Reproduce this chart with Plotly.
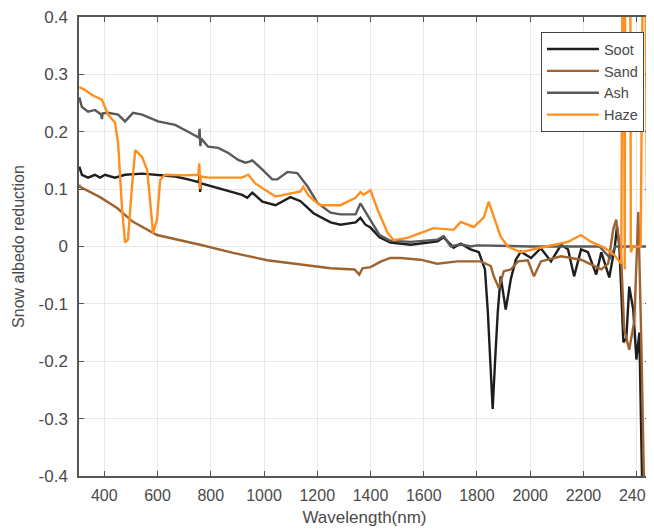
import plotly.graph_objects as go

# ---------------- data ----------------
soot_nm = [306, 316, 339, 365, 384, 403, 440, 478, 542, 602, 666, 715, 755, 758, 760, 763, 817, 881, 918, 937, 956, 994,
           1024, 1043, 1099, 1137, 1186, 1250, 1287, 1344, 1362, 1381, 1400, 1434, 1475, 1551, 1652, 1675, 1712, 1739,
           1776, 1807, 1830, 1841, 1850, 1859, 1868, 1878, 1889, 1908, 1927, 1946, 1965, 2003, 2040, 2078, 2116, 2142,
           2165, 2191, 2217, 2248, 2267, 2297, 2318, 2326, 2335, 2350, 2361, 2372, 2387, 2399, 2410, 2422, 2442, 2449]
soot_val = [0.139, 0.125, 0.12, 0.125, 0.12, 0.125, 0.12, 0.125, 0.127, 0.125, 0.122, 0.117, 0.112, 0.125, 0.095, 0.11,
            0.103, 0.096, 0.09, 0.085, 0.094, 0.078, 0.075, 0.072, 0.086, 0.079, 0.058, 0.042, 0.038, 0.042, 0.05, 0.038,
            0.033, 0.016, 0.007, 0.003, 0.009, 0.016, -0.002, 0.005, -0.005, -0.01, -0.04, -0.115, -0.2, -0.283, -0.2,
            -0.115, -0.052, -0.11, -0.057, -0.023, -0.009, -0.02, -0.003, -0.026, 0.003, -0.005, -0.052, -0.005, -0.01,
            -0.049, -0.01, -0.054, 0.0, 0.035, 0.0, -0.167, -0.16, -0.07, -0.11, -0.197, -0.15, -0.45, -0.45, -0.18]

sand_nm = [306, 309, 384, 448, 508, 598, 760, 884, 1012, 1137, 1250, 1340, 1358, 1370, 1400, 1440, 1475, 1513, 1588,
           1650, 1727, 1776, 1814, 1852, 1863, 1882, 1901, 1927, 1954, 1991, 2003, 2014, 2040, 2116, 2191, 2267, 2293,
           2312, 2323, 2335, 2342, 2353, 2372, 2391, 2406, 2418, 2429, 2450]
sand_val = [0.108, 0.104, 0.086, 0.067, 0.043, 0.02, 0.003, -0.011, -0.024, -0.032, -0.038, -0.04, -0.049, -0.038,
            -0.036, -0.026, -0.02, -0.02, -0.023, -0.03, -0.026, -0.026, -0.026, -0.034, -0.052, -0.072, -0.043, -0.04,
            -0.026, -0.024, -0.037, -0.052, -0.026, -0.017, -0.023, -0.04, -0.03, 0.03, 0.047, 0.0, -0.023, -0.144,
            -0.18, -0.13, 0.06, -0.18, -0.45, -0.45]

ash_nm = [306, 316, 339, 365, 388, 391, 394, 414, 452, 478, 508, 542, 602, 666, 715, 755, 758, 761, 764, 790, 828, 866,
          903, 930, 945, 956, 994, 1031, 1050, 1088, 1125, 1163, 1201, 1250, 1287, 1344, 1362, 1381, 1400, 1434, 1475,
          1551, 1652, 1675, 1701, 1739, 1776, 1800, 2000, 2200, 2260, 2280, 2300, 2320, 2340, 2450]
ash_val = [0.26, 0.243, 0.235, 0.238, 0.23, 0.222, 0.232, 0.233, 0.23, 0.218, 0.233, 0.23, 0.218, 0.212, 0.2, 0.19,
           0.205, 0.175, 0.188, 0.174, 0.172, 0.163, 0.151, 0.146, 0.148, 0.15, 0.134, 0.117, 0.117, 0.13, 0.128, 0.105,
           0.076, 0.059, 0.056, 0.056, 0.075, 0.06, 0.045, 0.02, 0.01, 0.008, 0.012, 0.018, 0.0, 0.004, 0.0, 0.002,
           0.0, 0.0, 0.0, -0.01, -0.02, 0.0, 0.0, 0.0]

haze_nm = [306, 327, 354, 391, 414, 440, 452, 467, 478, 489, 504, 516, 542, 561, 572, 583, 598, 610, 628, 700, 753,
           757, 760, 763, 790, 918, 941, 967, 1043, 1099, 1137, 1148, 1165, 1186, 1212, 1287, 1344, 1362, 1374, 1400,
           1427, 1464, 1487, 1539, 1637, 1712, 1739, 1788, 1826, 1844, 1863, 1889, 1916, 1965, 2029, 2089, 2142, 2191,
           2229, 2278, 2316, 2342, 2350, 2355, 2358, 2375, 2378, 2386, 2415, 2428, 2440, 2450]
haze_val = [0.278, 0.273, 0.264, 0.256, 0.23, 0.216, 0.18, 0.064, 0.007, 0.012, 0.104, 0.168, 0.156, 0.133, 0.081,
            0.023, 0.047, 0.116, 0.125, 0.124, 0.125, 0.145, 0.1, 0.122, 0.12, 0.12, 0.125, 0.11, 0.087, 0.092, 0.096,
            0.104, 0.09, 0.081, 0.072, 0.072, 0.085, 0.095, 0.09, 0.098, 0.064, 0.024, 0.011, 0.015, 0.032, 0.029,
            0.043, 0.034, 0.051, 0.078, 0.051, 0.017, 0.0, -0.01, -0.003, 0.003, 0.008, 0.02, 0.008, -0.002, -0.015,
            -0.03, 0.8, -0.04, 0.8, 0.8, -0.01, 0.0, 0.0, 0.8, 0.0, 0.0]

x_ticks = [400, 600, 800, 1000, 1200, 1400, 1600, 1800, 2000, 2200, 2400]
x_tick_labels = ["400", "600", "800", "1000", "1200", "1400", "1600", "1800", "2000", "2200", "2400"]
y_ticks = [0.4, 0.3, 0.2, 0.1, 0.0, -0.1, -0.2, -0.3, -0.4]
y_tick_labels = ["0.4", "0.3", "0.2", "0.1", "0", "-0.1", "-0.2", "-0.3", "-0.4"]

series = [
    ("Soot", soot_nm, soot_val, "#1e1e1e"),
    ("Sand", sand_nm, sand_val, "#9e6330"),
    ("Ash", ash_nm, ash_val, "#595959"),
    ("Haze", haze_nm, haze_val, "#ff8f1f"),
]

fig = go.Figure()
for name, xs, ys, col in series:
    fig.add_trace(go.Scatter(x=xs, y=ys, mode="lines", name=name,
                             line=dict(color=col, width=2.4)))

font_family = "Liberation Sans, Arial, sans-serif"
axis_common = dict(
    automargin=False,
    showgrid=True, gridcolor="#e8e8e8", gridwidth=1,
    showline=True, linecolor="#555555", linewidth=1.5, mirror="allticks",
    ticks="inside", ticklen=5, tickcolor="#555555", tickwidth=1,
    zeroline=False, ticklabeloverflow="allow",
)

# the page body adds an 8px offset, so the figure is sized to fit the window
fig.update_layout(
    width=646, height=524,
    margin=dict(l=71, r=4, t=9, b=56, autoexpand=False),
    paper_bgcolor="white", plot_bgcolor="white",
    font=dict(family=font_family, color="#4a4a4a"),
    xaxis=dict(range=[305, 2450], tickvals=x_ticks, ticktext=x_tick_labels, ticklabelstandoff=4,
               tickfont=dict(family=font_family, size=16, color="#4a4a4a"),
               title=dict(text="Wavelength(nm)", font=dict(size=17, color="#4a4a4a"), standoff=8),
               **axis_common),
    yaxis=dict(range=[-0.4, 0.4], tickvals=y_ticks, ticktext=y_tick_labels, ticklabelstandoff=6,
               tickfont=dict(family=font_family, size=17, color="#4a4a4a"),
               title=dict(text="Snow albedo reduction", font=dict(size=16, color="#4a4a4a"), standoff=10),
               **axis_common),
    showlegend=True,
    legend=dict(x=0.809, xanchor="left", y=0.967, yanchor="top",
                bgcolor="white", bordercolor="#444444", borderwidth=1,
                font=dict(family=font_family, size=14.5, color="#4a4a4a"),
                itemwidth=52, tracegroupgap=0),
)

fig.write_html("out.html")
